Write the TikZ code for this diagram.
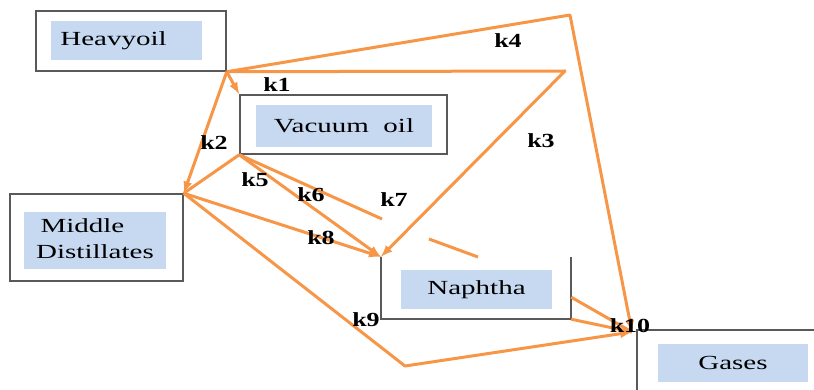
\documentclass[tikz,border=0pt]{standalone}
\usepackage{fontspec}
\setmainfont{Liberation Serif}
\usetikzlibrary{positioning}
\definecolor{flow}{HTML}{F79646}
\definecolor{fillblue}{HTML}{C6D9F1}
\newcommand{\wide}[1]{\scalebox{1.45}[1]{#1}}
\newcommand{\kwide}[1]{\scalebox{1.3}[1]{#1}}
\tikzset{
  outer/.style={draw=black!65, line width=1.5pt, inner sep=0pt},
  bare/.style={inner sep=0pt},
  side/.style={draw=black!65, line width=1.5pt},
  inner/.style={fill=fillblue, inner sep=0pt, font=\fontsize{20}{26}\selectfont},
  rate/.style={inner sep=0pt, font=\fontsize{20}{22}\selectfont\bfseries},
  flowline/.style={draw=flow, line width=3pt, line join=round, >=latex}
}

\begin{document}
\begin{tikzpicture}[x=1pt, y=-1pt]
  \useasboundingbox (0,0) rectangle (814,390);

  % boxes
  \node[outer, minimum width=190, minimum height=60] (heavy) at (131,41) {};
  \node[inner, minimum width=151, minimum height=39] (heavytxt) at (126.5,40.5) {\wide{Heavyoil}\hspace*{26pt}};

  \node[outer, minimum width=207, minimum height=59] (vac) at (343.5,124.5) {};
  \node[inner, minimum width=176, minimum height=42] (vactxt) at (344,126) {\wide{Vacuum\ \ oil}};

  \node[outer, minimum width=173, minimum height=87] (mid) at (96.5,237.5) {};
  \node[inner, minimum width=142, minimum height=57] (midtxt) at (95,240.5)
    {\wide{\begin{tabular}{@{}l@{}}\hspace{3pt}Middle\\Distillates\end{tabular}}};

  \node[bare, minimum width=190, minimum height=62] (naph) at (476,288) {};
  \draw[side] (naph.north west) -- (naph.south west) -- (naph.south east) -- (naph.north east);
  \node[inner, minimum width=151, minimum height=39] (naphtxt) at (476.5,289.5) {\wide{Naphtha}};

  \node[bare, minimum width=177, minimum height=60] (gas) at (725.5,360) {};
  \draw[side] (gas.south west) -- (gas.north west) -- (gas.north east);
  \node[inner, minimum width=150, minimum height=38] (gastxt) at (733,363) {\wide{Gases}};

  % junction points
  \coordinate (top) at (570,15);
  \coordinate (right) at (565,71);
  \coordinate (gj) at (632,332);
  \coordinate (low) at (405,366);
  \coordinate (sevena) at (382,219);
  \coordinate (sevenb) at (429,239);
  \coordinate (sevenc) at (478,257);
  \coordinate (naphside) at ([yshift=22pt]naph.south east);

  % reactions
  \draw[flowline, ->] (heavy.south east) -- (top) -- (gj);
  \draw[flowline, ->] (heavy.south east) -- (right) -- (naph.north west);
  \draw[flowline, ->] (heavy.south east) -- (vac.north west);
  \draw[flowline, ->] (heavy.south east) -- (mid.north east);
  \draw[flowline] (vac.south west) -- (mid.north east);
  \draw[flowline, ->] (vac.south west) -- (naph.north west);
  \draw[flowline] (vac.south west) -- (sevena);
  \draw[flowline] (sevenb) -- (sevenc);
  \draw[flowline, ->] (mid.north east) -- (naph.north west);
  \draw[flowline, ->] (mid.north east) -- (low) -- (gj);
  \draw[flowline] (naphside) -- (gj);
  \draw[flowline] (naph.south east) -- (gj);

  % rate constants
  \node[rate] (k1) at (277,85) {\kwide{k1}};
  \node[rate] (k2) at (214,143) {\kwide{k2}};
  \node[rate] (k3) at (541,141) {\kwide{k3}};
  \node[rate] (k4) at (508,41) {\kwide{k4}};
  \node[rate] (k5) at (255,180) {\kwide{k5}};
  \node[rate] (k6) at (311,195) {\kwide{k6}};
  \node[rate] (k7) at (394,200) {\kwide{k7}};
  \node[rate] (k8) at (321,238) {\kwide{k8}};
  \node[rate] (k9) at (366,320) {\kwide{k9}};
  \node[rate] (k10) at (630,326) {\kwide{k10}};
\end{tikzpicture}
\end{document}
